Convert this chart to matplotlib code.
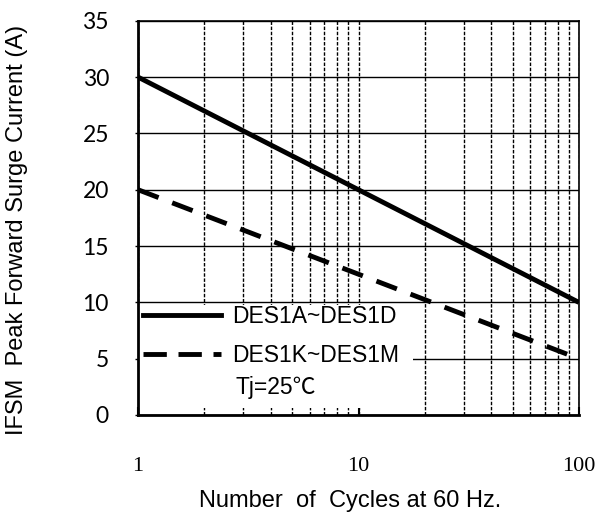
import matplotlib
matplotlib.use('Agg')
import matplotlib.pyplot as plt
from matplotlib.lines import Line2D

# surge current vs number of cycles
cycles = [1, 10, 100]
ifsm_a_d = [30, 20, 10]      # DES1A~DES1D
ifsm_k_m = [20, 12.5, 5]     # DES1K~DES1M

series_labels = ['DES1A~DES1D', 'DES1K~DES1M']
note = 'Tj=25\u2103'
y_ticks = [0, 5, 10, 15, 20, 25, 30, 35]
x_ticks = [1, 10, 100]
x_tick_labels = ['1', '10', '100']

plt.rcParams['font.family'] = ['Liberation Sans', 'Noto Sans CJK SC', 'DejaVu Sans']

fig = plt.figure(figsize=(5.98, 5.21), dpi=100)
ax = fig.add_axes([0.231, 0.2035, 0.737, 0.7565])
ax.set_axisbelow(True)

ax.set_xscale('log')
ax.set_xlim(1, 100)
ax.set_ylim(0, 35)

# grid
ax.grid(True, which='both', axis='x', color='black', linestyle=(0, (2.5, 1.2)), linewidth=1.0)
ax.grid(True, which='major', axis='y', color='black', linestyle='-', linewidth=1.0)

# white box behind the legend (hides the grid there)
ax.fill_between([1, 17.7], 0.6, 9.75, color='white', linewidth=0, zorder=2)

ax.plot(cycles, ifsm_a_d, color='black', linewidth=3.5, solid_capstyle='butt', zorder=4)
ax.plot(cycles, ifsm_k_m, color='black', linewidth=3.5, linestyle=(0, (4.5, 3)), zorder=4)

handles = [Line2D([], [], color='black', linewidth=3.5),
           Line2D([], [], color='black', linewidth=3.5, linestyle=(0, (4.8, 2.4)))]
leg = ax.legend(handles, series_labels, loc='center left', bbox_to_anchor=(0.0, 0.2005),
                frameon=False, fontsize=16.5, handlelength=3.4, handletextpad=0.5,
                labelspacing=0.7, borderaxespad=0.0, borderpad=0.2)
leg.set_zorder(5)
ax.text(0.222, 0.069, note, transform=ax.transAxes, fontsize=16.5, va='center', zorder=5)

ax.set_yticks(y_ticks)
ax.set_xticks(x_ticks)
ax.set_xticklabels(x_tick_labels)
for lab in ax.get_xticklabels():
    lab.set_fontfamily('Liberation Serif')
    lab.set_fontsize(16)
for lab in ax.get_yticklabels():
    lab.set_fontfamily('Lato')
    lab.set_fontsize(16.5)
ax.tick_params(axis='x', which='major', direction='in', length=6, width=1.5, pad=30)
ax.tick_params(axis='x', which='minor', length=0)
ax.tick_params(axis='y', direction='out', length=2, width=1, pad=19)

for s in ['left', 'bottom']:
    ax.spines[s].set_linewidth(2)
for s in ['top', 'right']:
    ax.spines[s].set_linewidth(1.2)

ax.set_xlabel('Number  of  Cycles at 60 Hz.', fontsize=17)
ax.xaxis.set_label_coords(0.48, -0.19)
ax.set_ylabel('IFSM  Peak Forward Surge Current (A)', fontsize=17)
ax.yaxis.set_label_coords(-0.25, 0.47)

plt.savefig('out.png', dpi=100)
